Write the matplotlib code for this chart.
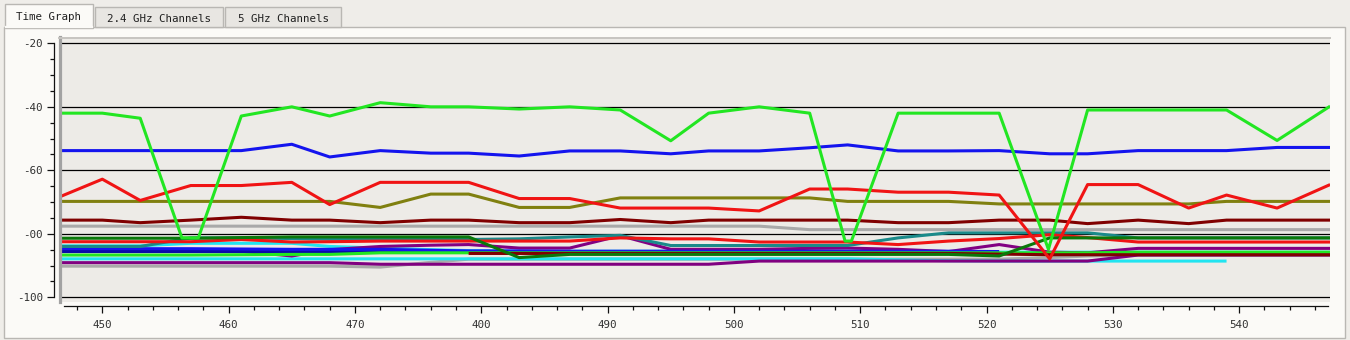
import matplotlib
matplotlib.use("Agg")
import matplotlib.pyplot as plt
from matplotlib.patches import Rectangle
from matplotlib.lines import Line2D
from matplotlib.ticker import FixedLocator, FixedFormatter, MultipleLocator

# ---------------- data ----------------
tabs = ["Time Graph", "2.4 GHz Channels", "5 GHz Channels"]
ytick_vals = [-20, -40, -60, -80, -100]
ytick_labels = ["-20", "-40", "-60", "-00", "-100"]
xtick_vals = [450, 460, 470, 480, 490, 500, 510, 520, 530, 540]
xtick_labels = ["450", "460", "470", "400", "490", "500", "510", "520", "530", "540"]

T = [446.6, 450, 453, 457, 461, 465, 468, 472, 476, 479, 483, 487, 491, 495,
     498, 502, 506, 509, 513, 517, 521, 525, 528, 532, 536, 539, 543, 547.2]

green1_x = [446.6, 450, 453, 456.3, 457.6, 461, 465, 468, 472, 476, 479, 483, 487, 491,
            495, 498, 502, 506, 508.8, 509.3, 513, 517, 521, 524.9, 528, 532, 536, 539,
            543, 547.2]
green1_y = [-42, -42, -43.6, -81.3, -81.3, -42.9, -40, -42.9, -38.7, -40, -40, -40.7, -40,
            -41, -50.7, -42, -40, -42, -82.3, -82.3, -42, -42, -42, -84.9, -41, -41, -41,
            -41, -50.6, -39.8]
blue1_y = [-53.8, -53.8, -53.8, -53.8, -53.8, -51.8, -55.8, -53.8, -54.6, -54.6, -55.5,
           -53.9, -53.9, -54.8, -53.9, -53.9, -52.9, -52, -53.9, -53.9, -53.8, -54.8, -54.8,
           -53.8, -53.8, -53.8, -52.8, -52.8]
red1_y = [-68.4, -62.8, -69.5, -64.8, -64.8, -63.8, -70.8, -63.8, -63.8, -63.8, -68.9,
          -68.9, -71.9, -71.9, -71.9, -72.8, -65.9, -65.9, -66.9, -66.9, -67.8, -87.9,
          -64.5, -64.5, -71.9, -67.8, -71.9, -64.5]
olive_y = [-69.8, -69.8, -69.8, -69.8, -69.8, -69.8, -69.8, -71.7, -67.5, -67.5, -71.7,
           -71.7, -68.7, -68.7, -68.7, -68.7, -68.7, -69.8, -69.8, -69.8, -70.6, -70.6,
           -70.6, -70.6, -70.6, -69.8, -69.8, -69.8]
darkred1_y = [-75.7, -75.7, -76.5, -75.7, -74.8, -75.7, -75.7, -76.5, -75.7, -75.7, -76.5,
              -76.5, -75.5, -76.5, -75.7, -75.7, -75.7, -75.7, -76.5, -76.5, -75.7, -75.7,
              -76.8, -75.7, -76.8, -75.7, -75.7, -75.7]
gray1_y = [-77.6, -77.6, -77.6, -77.6, -77.6, -77.6, -77.6, -77.6, -77.6, -77.6, -77.6,
           -77.6, -77.6, -77.6, -77.6, -77.6, -78.7, -78.7, -78.7, -78.7, -78.7, -78.7,
           -78.7, -78.7, -78.7, -78.7, -78.7, -78.7]
dkgreen_y = [-81.4, -81.4, -81.4, -81.4, -81.2, -81, -81, -81, -81, -81, -87.5, -86.5,
             -86.5, -86.5, -86.5, -86.5, -86.5, -86.5, -86.5, -86.5, -87, -81.3, -81.3,
             -81.3, -81.3, -81.3, -81.3, -81.3]
red2_y = [-82.5, -82.5, -82.5, -82.5, -81.8, -82.6, -82.5, -82.3, -82.3, -82.3, -82.3,
          -82.3, -81.3, -81.6, -81.6, -82.6, -82.6, -82.6, -83.4, -82.3, -81.5, -80.3,
          -81.2, -82.6, -82.6, -82.6, -82.6, -82.6]
teal_y = [-84, -84, -84, -81.3, -81.3, -81.5, -81.7, -81.7, -81.8, -81.8, -81.6, -81,
          -80.5, -83.7, -83.7, -83.7, -83.7, -83.7, -81.3, -79.7, -79.7, -79.7, -79.7,
          -81.3, -81.3, -81.3, -81.3, -81.3]
cyan1_y = [-83.8, -83.8, -83.8, -83, -83, -83, -84, -84.5, -85, -85.3, -85.5, -85.5,
           -85.5, -85.5, -85.5, -85.5, -85.5, -85.5, -85.5, -85.8, -85.8, -85.8, -85.8,
           -85.8, -85.8, -85.8, -85.8, -85.8]
blue2_x = [446.6, 450, 453, 457, 461, 465, 468, 472, 476, 479, 483, 487, 491, 495, 498,
           502, 506, 509, 513, 517, 521]
blue2_y = [-84.7, -84.7, -84.7, -84.7, -84.8, -84.9, -84.9, -84.9, -85.2, -85.4, -85.4,
           -85.5, -85.5, -85.5, -85.5, -85.5, -85.5, -85.5, -85.5, -85.5, -85.6]
navy_x = [446.6, 450, 453, 457, 461, 465, 468, 472, 476, 479]
navy_y = [-85.6, -85.6, -85.6, -85.6, -85.6, -85.6, -85.6, -85.6, -85.7, -85.8]
purple1_y = [-85.5, -85.5, -85.5, -85.5, -85.5, -87, -85, -84, -83.6, -83.4, -84.5, -84.5,
             -80.6, -84.9, -84.9, -84.9, -84.6, -84.5, -84.9, -85.6, -83.4, -85.8, -86,
             -84.6, -84.6, -84.6, -84.6, -84.6]
green2_y = [-86.7, -86.7, -86.7, -86.7, -86.6, -86.5, -86.5, -86, -86, -86, -86, -86, -86,
            -86, -86, -86, -86, -86, -86, -86, -86, -86, -86, -85.8, -85.8, -85.8, -85.8,
            -85.8]
darkred2_x = [479, 483, 487, 491, 495, 498, 502, 506, 509, 513, 517, 521, 525, 528, 532,
              536, 539, 543, 547.2]
darkred2_y = [-86.2, -86.2, -86.2, -86.2, -86.2, -86.2, -86.2, -86.2, -86.2, -86.2, -86.2,
              -86.4, -86.6, -86.6, -86.6, -86.6, -86.6, -86.6, -86.6]
cyan2_x = [446.6, 450, 453, 457, 461, 465, 468, 472, 476, 479, 483, 487, 491, 495, 498,
           502, 506, 509, 513, 517, 521, 525, 528, 532, 536, 539]
cyan2_y = [-87.9, -87.9, -87.9, -87.9, -87.9, -87.9, -87.9, -87.9, -87.9, -87.9, -87.9,
           -87.9, -87.9, -87.9, -87.9, -87.9, -87.9, -87.9, -88.2, -88.5, -88.6, -88.6,
           -88.6, -88.6, -88.6, -88.6]
gray2_y = [-90.2, -90.2, -90.2, -90.2, -90.2, -90.2, -90.2, -90.5, -89, -88, -88, -88,
           -88, -88, -88, -88, -88, -88, -88, -88, -88, -87.5, -87, -86.7, -86.7, -86.7,
           -86.7, -86.7]
purple2_y = [-89.1, -89.1, -89.1, -89.1, -89.1, -89.1, -89.1, -89.6, -89.6, -89.6, -89.6,
             -89.6, -89.6, -89.6, -89.6, -88.6, -88.6, -88.6, -88.6, -88.6, -88.6, -88.6,
             -88.6, -86.7, -86.7, -86.7, -86.7, -86.7]

# draw order: bottom first
series = [
    (T, gray2_y, "#a9a9a9"),
    (cyan2_x, cyan2_y, "#22e4f0"),
    (T, purple2_y, "#800080"),
    (T, cyan1_y, "#22e4f0"),
    (T, purple1_y, "#820082"),
    (navy_x, navy_y, "#0a0aa8"),
    (blue2_x, blue2_y, "#1414ee"),
    (T, green2_y, "#22e622"),
    (darkred2_x, darkred2_y, "#800000"),
    (T, teal_y, "#1a8a8a"),
    (T, red2_y, "#f01414"),
    (T, dkgreen_y, "#0a780a"),
    (T, gray1_y, "#a9a9a9"),
    (T, darkred1_y, "#800000"),
    (T, olive_y, "#808010"),
    (T, red1_y, "#f01414"),
    (T, blue1_y, "#1414ee"),
    (green1_x, green1_y, "#22e622"),
]

# ---------------- figure ----------------
W, H = 1350, 340
fig = plt.figure(figsize=(13.5, 3.4), dpi=100, facecolor="#efede9")


def fx(x):
    return x / W


def fy(y):
    return 1 - y / H


PANEL = "#fbfaf7"
EDGE = "#b9b7b3"
MONO = "DejaVu Sans Mono"

# panel (behind axes)
fig.add_artist(Rectangle((fx(4), fy(338)), (1345 - 4) / W, (338 - 27) / H,
                         transform=fig.transFigure, facecolor=PANEL, edgecolor=EDGE, lw=1,
                         zorder=-10))
# tabs
tab_geo = [(5, 93, 4), (95, 223, 7), (225, 341, 7)]
for i, (label, (x0, x1, y0)) in enumerate(zip(tabs, tab_geo)):
    fc = PANEL if i == 0 else "#e8e6e2"
    yb = 28 if i == 0 else 27
    fig.add_artist(Rectangle((fx(x0), fy(yb)), (x1 - x0) / W, (yb - y0) / H,
                             transform=fig.transFigure, facecolor=fc, edgecolor=EDGE, lw=1,
                             zorder=-9))
    fig.text(fx((x0 + x1) / 2), fy(17.5 if i == 0 else 18.5), label, ha="center",
             va="center", fontsize=7.8, family=MONO, color="#202020")
fig.add_artist(Line2D([fx(5.7), fx(92.3)], [fy(27.4), fy(27.4)], transform=fig.transFigure,
                      color=PANEL, lw=1.6, zorder=-8))

# ---------------- axes ----------------
rect = [fx(59), fy(301.7), (1330 - 59) / W, (301.7 - 37.3) / H]
xlim = (446.57, 547.19)
ylim = (-101.4, -18.1)

ax = fig.add_axes(rect, facecolor="#edebe7")
ax.set_xlim(*xlim)
ax.set_ylim(*ylim)
for s in ax.spines.values():
    s.set_visible(False)
ax.set_xticks([])
ax.set_yticks([])
for yv in ytick_vals:
    ax.axhline(yv, color="black", lw=0.9, zorder=1)
for xs, ys, c in series:
    ax.plot(xs, ys, color=c, lw=2.2, solid_joinstyle="round", solid_capstyle="butt", zorder=2)

# plot box borders
fig.add_artist(Line2D([fx(59.8), fx(59.8)], [fy(36.5), fy(302)], transform=fig.transFigure,
                      color="#a2a2a2", lw=2.3, zorder=5))
fig.add_artist(Line2D([fx(59), fx(1330)], [fy(37.6), fy(37.6)], transform=fig.transFigure,
                      color="#c6c4c0", lw=1.4, zorder=5))

# tick axes
tax = fig.add_axes(rect, facecolor="none")
tax.set_xlim(*xlim)
tax.set_ylim(*ylim)
tax.spines["top"].set_visible(False)
tax.spines["right"].set_visible(False)
tax.spines["left"].set_position(("outward", 3.4))
tax.spines["bottom"].set_position(("outward", 2.9))
tax.spines["left"].set_bounds(-100, -20)
tax.spines["bottom"].set_bounds(447, 547)
for k in ("left", "bottom"):
    tax.spines[k].set_color("#111111")
    tax.spines[k].set_linewidth(0.9)
tax.yaxis.set_major_locator(FixedLocator(ytick_vals))
tax.yaxis.set_major_formatter(FixedFormatter(ytick_labels))
tax.yaxis.set_minor_locator(MultipleLocator(5))
tax.xaxis.set_major_locator(FixedLocator(xtick_vals))
tax.xaxis.set_major_formatter(FixedFormatter(xtick_labels))
tax.xaxis.set_minor_locator(MultipleLocator(2))
tax.tick_params(which="major", direction="out", length=5, width=0.9, color="#111111")
tax.tick_params(which="minor", direction="out", length=3, width=0.9, color="#111111")
tax.tick_params(axis="y", which="major", pad=3.4, labelsize=7.8, labelcolor="#303030")
tax.tick_params(axis="x", which="major", pad=5, labelsize=7.8, labelcolor="#303030")
for lab in tax.get_xticklabels() + tax.get_yticklabels():
    lab.set_family(MONO)

fig.savefig("out.png", dpi=100, facecolor=fig.get_facecolor())
